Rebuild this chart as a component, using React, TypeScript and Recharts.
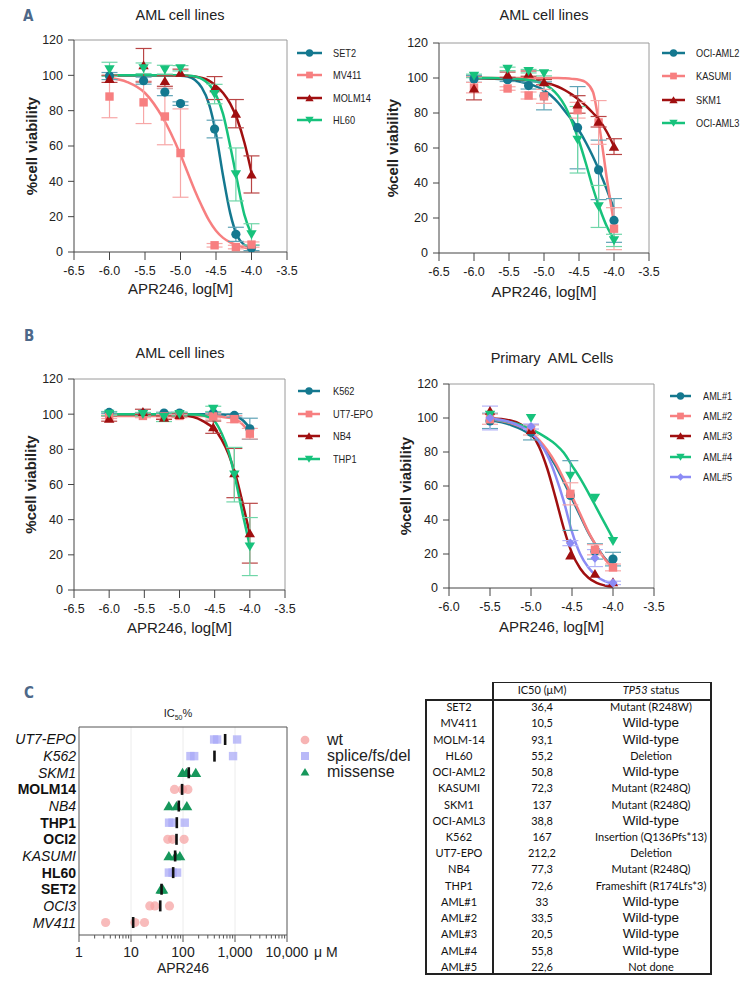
import React from 'react';
import { ComposedChart, Line, Scatter, XAxis, YAxis, ErrorBar, ReferenceLine, Legend, Label } from 'recharts';

const SANS = "'Liberation Sans', Arial, Helvetica, sans-serif";
const TABLE_FONT = "Lato, 'Open Sans', sans-serif";

const TEAL = '#14788f';
const SALMON = '#f77f80';
const DARK_RED = '#a00f10';
const GREEN = '#17c27c';
const LAVENDER = '#8b8bf5';
const TEAL_ERR = '#5fa3b6';
const SALMON_ERR = '#f7a7a7';
const DARK_RED_ERR = '#b94545';
const GREEN_ERR = '#6fd6a8';
const LAVENDER_ERR = '#b3b3f7';

// ---------- dose axis values (log M) ----------
const doseLog = [-6, -5.52, -5.22, -5, -4.52, -4.22, -4];
const fitGrid = [-6, -5.75, -5.5, -5.25, -5, -4.9, -4.8, -4.7, -4.6, -4.5, -4.4, -4.3, -4.2, -4.1, -4];
const doseLogPrimary = [-5.5, -5, -4.52, -4.22, -4];
const fitGridPrimary = [-5.5, -5.25, -5, -4.9, -4.8, -4.7, -4.6, -4.5, -4.4, -4.3, -4.2, -4.1, -4];

const xTicksLines = [-6.5, -6, -5.5, -5, -4.5, -4, -3.5];
const xTicksPrimary = [-6, -5.5, -5, -4.5, -4, -3.5];
const yTicksViability = [0, 20, 40, 60, 80, 100, 120];

// ---------- Panel A left ----------
const set2Mean = [99.6, 97, 90.5, 84, 69.6, 10, 2.3];
const set2Sd = [2, 2, 2, 1, 5, 4, 1.5];
const set2Fit = [100, 100, 100, 100, 99.8, 99.3, 97.5, 93, 84, 67, 43, 22, 9, 4, 2];
const mv411Mean = [88, 84.7, 76.7, 56, 3.8, 2.8, 4.2];
const mv411Sd = [12, 12, 16, 25, 1, 1, 1.5];
const mv411Fit = [98.6, 96.2, 90, 76, 55, 45, 35, 26, 18, 12, 8, 5.5, 3.8, 2.5, 1.7];
const molm14Mean = [98, 105.7, 96.8, 101.5, 92.8, 78.3, 43.9];
const molm14Sd = [2, 9.5, 3, 2, 6.5, 8, 10.5];
const molm14Fit = [100, 100, 100, 100, 100, 99.7, 99.3, 98.5, 97, 94, 90, 84, 75, 62, 45];
const hl60Mean = [103.4, 104, 103.2, 104, 89.4, 43.9, 10];
const hl60Sd = [4, 3, 2.5, 1.5, 5.5, 15, 6];
const hl60Fit = [100, 100, 100, 100, 100, 99.8, 99.4, 98, 95, 89, 78, 60, 40, 21, 10];

// ---------- Panel A right ----------
const ociAml2Mean = [99.5, 99, 95.7, 89.8, 71.6, 47.5, 18.6];
const ociAml2Sd = [2, 1, 2, 8, 23.5, 17, 12.5];
const ociAml2Fit = [99.8, 99.6, 99, 97, 93, 90, 86, 81, 76, 70, 63, 55, 46, 36, 25];
const kasumiMean = [94.5, 94, 90, 89.5, 81.6, 74.6, 13.9];
const kasumiSd = [3, 1, 2, 4, 4.5, 12.5, 12];
const kasumiFit = [100, 100, 100, 100, 100, 100, 100, 99.8, 99.5, 99, 97.5, 92, 70, 42, 17];
const skm1Mean = [94, 101.9, 102.5, 97.6, 84.9, 75, 60.8];
const skm1Sd = [6.5, 1.5, 1.5, 1.5, 5, 3, 4.5];
const skm1Fit = [100, 99.8, 99.5, 98.8, 97.5, 96.5, 95, 93, 90.5, 87.5, 84, 80, 75.5, 69, 61];
const ociAml3Mean = [101.2, 105.2, 103.9, 102.7, 64.7, 26.6, 7.2];
const ociAml3Sd = [1, 1, 1, 1.5, 19, 12, 3.5];
const ociAml3Fit = [100, 100, 99.7, 99, 96.5, 94, 90, 84, 75, 64, 51, 37, 25, 15, 8];

// ---------- Panel B left ----------
const k562Mean = [101, 100.4, 100.6, 100.6, 100.6, 99.3, 91.7];
const k562Sd = [0.5, 0.5, 0.5, 0.5, 0.5, 1, 6];
const k562Fit = [100, 100, 100, 100, 100, 100, 100, 100, 100, 100, 99.8, 99.5, 98.8, 96.5, 92];
const ut7Mean = [98.5, 99, 98.7, 99, 98.7, 97.2, 88.9];
const ut7Sd = [1, 1, 1, 1, 1.5, 2, 3];
const ut7Fit = [99, 99, 99, 99, 99, 99, 99, 99, 99, 98.8, 98.5, 98, 97, 94, 89];
const nb4Mean = [97.5, 101.3, 98, 99.6, 92.6, 66.5, 32.3];
const nb4Sd = [1.5, 1.5, 1, 1, 3.5, 14, 17];
const nb4Fit = [100, 100, 100, 100, 99.8, 99.3, 98.3, 96.8, 94.5, 91.5, 85.5, 77, 65, 49, 32];
const thp1Mean = [100.2, 100, 98.3, 100, 103, 65.6, 24.7];
const thp1Sd = [1, 1, 2.5, 1, 1.5, 15.5, 16.5];
const thp1Fit = [100, 100, 100, 100, 100, 100, 99.8, 99.5, 98.5, 96, 89, 78.5, 62, 43, 25];

// ---------- Panel B right (primary cells) ----------
const aml1Mean = [98.3, 91.6, 54.4, 21.5, 17];
const aml1Sd = [4.5, 4.5, 20.5, 4.5, 4];
const aml1Fit = [98.6, 96, 90, 85.5, 79.5, 72, 62.5, 52.5, 42.5, 32.5, 24.5, 17.5, 12.5];
const aml2Mean = [99.3, 93, 55.4, 22.5, 12.1];
const aml2Sd = [3, 3, 6.5, 3, 2];
const aml2Fit = [99.2, 97, 91.5, 87, 81, 73.5, 64, 54, 43.5, 33, 24.5, 17, 11.5];
const aml3Mean = [104.3, 93, 19.2, 8.4, 3.5];
const aml3Sd: number[] = [];
const aml3Fit = [99.8, 98.5, 91, 83, 70, 53, 35, 20.5, 11.5, 6, 3, 1.5, 0.7];
const aml4Mean = [101.8, 100, 66, 53, 27.6];
const aml4Sd: number[] = [];
const aml4Fit = [99.5, 97.5, 93.5, 91, 88, 84.5, 79.5, 72, 64.5, 56, 47, 38, 29];
const aml5Mean = [100, 95, 26.4, 17.6, 3];
const aml5Sd = [7, 1.5, 1.5, 5, 1];
const aml5Fit = [99.5, 97.5, 91, 86, 78, 66, 51, 33, 20, 12, 7, 4, 2.5];

// ---------- Panel C (IC50 scatter) ----------
const icCategories = ['UT7-EPO', 'K562', 'SKM1', 'MOLM14', 'NB4', 'THP1', 'OCI2', 'KASUMI', 'HL60', 'SET2', 'OCI3', 'MV411'];
const icLabelStyle = ['italic', 'italic', 'italic', 'bold', 'italic', 'bold', 'bold', 'italic', 'bold', 'bold', 'italic', 'italic'];
const icGroup = ['splice', 'splice', 'missense', 'wt', 'missense', 'splice', 'wt', 'missense', 'splice', 'missense', 'wt', 'wt'];
const icReplicates = [
  [397, 453, 1097], [139, 164, 918], [98, 117, 176], [68.7, 98, 124], [53.5, 75, 118.5], [54, 62.9, 108],
  [51, 63, 105], [53.5, 71.8, 87], [53.5, 63, 77], [37.5, 39, 41], [23, 28.8, 55], [3.25, 11.9, 18.2],
];
const icMedian = [646, 403, 129, 96, 83, 76, 75, 70.6, 64.7, 38.7, 36.5, 11];
const groupKeys = ['wt', 'splice', 'missense'];
const groupLabels = ['wt', 'splice/fs/del', 'missense'];
const groupColors = ['#f5a1a1', '#a7a7f6', '#16975b'];
const groupMarkers = ['circle', 'square', 'triUp'];
const logMajorTicks = [1, 10, 100, 1000, 10000];
const logMajorLabels = ['1', '10', '100', '1,000', '10,000'];
const logMinorMultipliers = [2, 3, 4, 5, 6, 7, 8, 9];

// ---------- Table ----------
const tableLines = ['SET2', 'MV411', 'MOLM-14', 'HL60', 'OCI-AML2', 'KASUMI', 'SKM1', 'OCI-AML3', 'K562', 'UT7-EPO', 'NB4', 'THP1', 'AML#1', 'AML#2', 'AML#3', 'AML#4', 'AML#5'];
const tableIC50 = ['36,4', '10,5', '93,1', '55,2', '50,8', '72,3', '137', '38,8', '167', '212,2', '77,3', '72,6', '33', '33,5', '20,5', '55,8', '22,6'];
const tableStatus = ['Mutant (R248W)', 'Wild-type', 'Wild-type', 'Deletion', 'Wild-type', 'Mutant (R248Q)', 'Mutant (R248Q)', 'Wild-type', 'Insertion (Q136Pfs*13)', 'Deletion', 'Mutant (R248Q)', 'Frameshift (R174Lfs*3)', 'Wild-type', 'Wild-type', 'Wild-type', 'Wild-type', 'Not done'];

type Series = { name: string; color: string; errColor: string; marker: string; mean: number[]; sd: number[]; fit: number[] };

const Marker = ({ kind, cx, cy, color, s = 1, opacity = 1 }: any) => {
  if (cx == null || cy == null) return null;
  if (kind === 'circle') return <circle cx={cx} cy={cy} r={4.6 * s} fill={color} fillOpacity={opacity} />;
  if (kind === 'square') return <rect x={cx - 4.2 * s} y={cy - 4.2 * s} width={8.4 * s} height={8.4 * s} fill={color} fillOpacity={opacity} />;
  if (kind === 'triUp') {
    const w = 5.2 * s, h = 4.8 * s;
    return <polygon points={`${cx},${cy - h} ${cx + w},${cy + h * 0.85} ${cx - w},${cy + h * 0.85}`} fill={color} fillOpacity={opacity} />;
  }
  if (kind === 'triDown') {
    const w = 5.2 * s, h = 4.8 * s;
    return <polygon points={`${cx},${cy + h} ${cx + w},${cy - h * 0.85} ${cx - w},${cy - h * 0.85}`} fill={color} fillOpacity={opacity} />;
  }
  const r = 4.6 * s;
  return <polygon points={`${cx},${cy - r} ${cx + r},${cy} ${cx},${cy + r} ${cx - r},${cy}`} fill={color} fillOpacity={opacity} />;
};

const seriesALeft: Series[] = [
  { name: 'SET2', color: TEAL, errColor: TEAL_ERR, marker: 'circle', mean: set2Mean, sd: set2Sd, fit: set2Fit },
  { name: 'MV411', color: SALMON, errColor: SALMON_ERR, marker: 'square', mean: mv411Mean, sd: mv411Sd, fit: mv411Fit },
  { name: 'MOLM14', color: DARK_RED, errColor: DARK_RED_ERR, marker: 'triUp', mean: molm14Mean, sd: molm14Sd, fit: molm14Fit },
  { name: 'HL60', color: GREEN, errColor: GREEN_ERR, marker: 'triDown', mean: hl60Mean, sd: hl60Sd, fit: hl60Fit },
];
const seriesARight: Series[] = [
  { name: 'OCI-AML2', color: TEAL, errColor: TEAL_ERR, marker: 'circle', mean: ociAml2Mean, sd: ociAml2Sd, fit: ociAml2Fit },
  { name: 'KASUMI', color: SALMON, errColor: SALMON_ERR, marker: 'square', mean: kasumiMean, sd: kasumiSd, fit: kasumiFit },
  { name: 'SKM1', color: DARK_RED, errColor: DARK_RED_ERR, marker: 'triUp', mean: skm1Mean, sd: skm1Sd, fit: skm1Fit },
  { name: 'OCI-AML3', color: GREEN, errColor: GREEN_ERR, marker: 'triDown', mean: ociAml3Mean, sd: ociAml3Sd, fit: ociAml3Fit },
];
const seriesBLeft: Series[] = [
  { name: 'K562', color: TEAL, errColor: TEAL_ERR, marker: 'circle', mean: k562Mean, sd: k562Sd, fit: k562Fit },
  { name: 'UT7-EPO', color: SALMON, errColor: SALMON_ERR, marker: 'square', mean: ut7Mean, sd: ut7Sd, fit: ut7Fit },
  { name: 'NB4', color: DARK_RED, errColor: DARK_RED_ERR, marker: 'triUp', mean: nb4Mean, sd: nb4Sd, fit: nb4Fit },
  { name: 'THP1', color: GREEN, errColor: GREEN_ERR, marker: 'triDown', mean: thp1Mean, sd: thp1Sd, fit: thp1Fit },
];
const seriesBRight: Series[] = [
  { name: 'AML#1', color: TEAL, errColor: TEAL_ERR, marker: 'circle', mean: aml1Mean, sd: aml1Sd, fit: aml1Fit },
  { name: 'AML#2', color: SALMON, errColor: SALMON_ERR, marker: 'square', mean: aml2Mean, sd: aml2Sd, fit: aml2Fit },
  { name: 'AML#3', color: DARK_RED, errColor: DARK_RED_ERR, marker: 'triUp', mean: aml3Mean, sd: aml3Sd, fit: aml3Fit },
  { name: 'AML#4', color: GREEN, errColor: GREEN_ERR, marker: 'triDown', mean: aml4Mean, sd: aml4Sd, fit: aml4Fit },
  { name: 'AML#5', color: LAVENDER, errColor: LAVENDER_ERR, marker: 'diamond', mean: aml5Mean, sd: aml5Sd, fit: aml5Fit },
];

type PanelCfg = {
  title: string; L: number; T: number; W: number; H: number;
  x0: number; x1: number; y0: number; y1: number;
  xDomain: number[]; xTicks: number[]; dose: number[]; grid: number[]; series: Series[];
  legendX: number; legendY: number; legendRow: number; legendLine: number; legendTextX: number;
  titleX: number; titleY: number; yLabelX: number; xLabelBaseline: number;
};

const panels: PanelCfg[] = [
  { title: 'AML cell lines', L: 0, T: 0, W: 380, H: 300, x0: 74, x1: 287, y0: 40, y1: 252, xDomain: [-6.5, -3.5], xTicks: xTicksLines, dose: doseLog, grid: fitGrid, series: seriesALeft, legendX: 297, legendY: 53, legendRow: 22.4, legendLine: 25, legendTextX: 333, titleX: 180, titleY: 15, yLabelX: 32, xLabelBaseline: 294 },
  { title: 'AML cell lines', L: 378, T: 0, W: 378, H: 300, x0: 439, x1: 649, y0: 43, y1: 253, xDomain: [-6.5, -3.5], xTicks: xTicksLines, dose: doseLog, grid: fitGrid, series: seriesARight, legendX: 662, legendY: 53, legendRow: 23.3, legendLine: 23, legendTextX: 696, titleX: 544, titleY: 15, yLabelX: 393, xLabelBaseline: 297 },
  { title: 'AML cell lines', L: 0, T: 300, W: 380, H: 340, x0: 74, x1: 285, y0: 379, y1: 590, xDomain: [-6.5, -3.5], xTicks: xTicksLines, dose: doseLog, grid: fitGrid, series: seriesBLeft, legendX: 298, legendY: 391, legendRow: 22.7, legendLine: 22, legendTextX: 333, titleX: 180, titleY: 353, yLabelX: 31, xLabelBaseline: 633 },
  { title: 'Primary  AML Cells', L: 378, T: 300, W: 378, H: 340, x0: 449, x1: 654, y0: 384, y1: 588, xDomain: [-6, -3.5], xTicks: xTicksPrimary, dose: doseLogPrimary, grid: fitGridPrimary, series: seriesBRight, legendX: 670, legendY: 396, legendRow: 20.2, legendLine: 21, legendTextX: 703, titleX: 552, titleY: 358, yLabelX: 406, xLabelBaseline: 632 },
];

const SeriesLegend = ({ cfg }: { cfg: PanelCfg }) => (
  <div>
    {cfg.series.map((s) => (
      <div key={s.name} style={{ height: cfg.legendRow, display: 'flex', alignItems: 'center' }}>
        <svg width={cfg.legendLine} height={12} style={{ overflow: 'visible', flex: 'none' }}>
          <line x1={0} x2={cfg.legendLine} y1={6} y2={6} stroke={s.color} strokeWidth={2.5} />
          <Marker kind={s.marker} cx={cfg.legendLine / 2} cy={6} color={s.color} s={0.8} />
        </svg>
        <span style={{ display: 'inline-block', marginLeft: cfg.legendTextX - cfg.legendX - cfg.legendLine, fontSize: 11.5, fontFamily: SANS, color: '#222', whiteSpace: 'nowrap', lineHeight: '12px', transform: 'scaleX(0.8)', transformOrigin: 'left center' }}>{s.name}</span>
      </div>
    ))}
  </div>
);

const DosePanel = ({ cfg }: { cfg: PanelCfg }) => {
  const margin = { top: cfg.y0 - cfg.T, right: cfg.L + cfg.W - cfg.x1, left: 0, bottom: 0 };
  const yAxisW = cfg.x0 - cfg.L;
  const xAxisH = cfg.T + cfg.H - cfg.y1;
  const tickStyle = { fill: '#222', fontSize: 12.5, fontFamily: SANS };
  return (
    <div style={{ position: 'absolute', left: cfg.L, top: cfg.T }}>
      <ComposedChart width={cfg.W} height={cfg.H} margin={margin} style={{ fontFamily: SANS }}>
        <XAxis type="number" dataKey="x" domain={cfg.xDomain} ticks={cfg.xTicks} interval={0} allowDataOverflow height={xAxisH}
          tickSize={8} tickMargin={6} tickFormatter={(v: number) => v.toFixed(1)} stroke="#444" tick={tickStyle}>
          <Label value="APR246, log[M]" position="insideBottom" offset={cfg.T + cfg.H - cfg.xLabelBaseline} style={{ fontSize: 15, fill: '#222', fontFamily: SANS }} />
        </XAxis>
        <YAxis type="number" dataKey="y" domain={[0, 120]} ticks={yTicksViability} interval={0} allowDataOverflow width={yAxisW}
          tickSize={6} tickMargin={5} stroke="#444" tick={tickStyle}>
          <Label value="%cell viability" angle={-90} position="insideLeft" offset={cfg.yLabelX - cfg.L}
            style={{ textAnchor: 'middle', fontSize: 15, fontWeight: 'bold', fill: '#222', fontFamily: SANS }} />
        </YAxis>
        <ReferenceLine y={120} stroke="#9a9a9a" strokeWidth={1} />
        <ReferenceLine x={cfg.xDomain[1]} stroke="#9a9a9a" strokeWidth={1} />
        {cfg.series.map((s) => (
          <Line key={'fit-' + s.name} data={cfg.grid.map((x, i) => ({ x, y: s.fit[i] }))} dataKey="y" type="monotone"
            stroke={s.color} strokeWidth={2.5} dot={false} activeDot={false} isAnimationActive={false} legendType="none" />
        ))}
        {cfg.series.map((s) => (
          <Scatter key={'pts-' + s.name} data={cfg.dose.map((x, i) => ({ x, y: s.mean[i], err: s.sd[i] }))} dataKey="y"
            isAnimationActive={false} legendType="none"
            shape={(p: any) => <Marker kind={s.marker} cx={p.cx} cy={p.cy} color={s.color} />}>
            {s.sd.length > 0 && <ErrorBar dataKey="err" direction="y" width={8} stroke={s.errColor} strokeWidth={1.2} />}
          </Scatter>
        ))}
        <Legend layout="horizontal" verticalAlign="middle" align="center"
          wrapperStyle={{ left: cfg.legendX - cfg.L, top: cfg.legendY - cfg.T - cfg.legendRow / 2, width: 110, height: cfg.legendRow * cfg.series.length }}
          content={() => <SeriesLegend cfg={cfg} />} />
      </ComposedChart>
    </div>
  );
};

// ---------- Panel C ----------
const IC_L = 0, IC_T = 700, IC_W = 425, IC_H = 284, IC_X0 = 79, IC_X1 = 287, IC_Y0 = 727, IC_Y1 = 935;
const icYTop = 11.75, icYBottom = -0.75;
const icYPos = (i: number) => icCategories.length - 1 - i;
const icTicksY = icCategories.map((_, i) => icYPos(i));
const logAllTicks: number[] = [];
logMajorTicks.forEach((m, k) => {
  logAllTicks.push(m);
  if (k < logMajorTicks.length - 1) logMinorMultipliers.forEach((f) => logAllTicks.push(m * f));
});

const LogTick = (props: any) => {
  const { x, y, payload } = props;
  const v = payload.value;
  const k = logMajorTicks.indexOf(v);
  const major = k >= 0;
  return (
    <g>
      <line x1={x} x2={x} y1={y} y2={y + (major ? 7 : 3.5)} stroke="#555" strokeWidth={1} />
      {major && (
        <text x={x} y={y + 22} textAnchor="middle" fontSize={14} fill="#222" fontFamily={SANS}>{logMajorLabels[k]}</text>
      )}
      {major && k === logMajorTicks.length - 1 && (
        <text x={x + 27} y={y + 22} textAnchor="start" fontSize={14} fill="#222" fontFamily={SANS}>μ M</text>
      )}
    </g>
  );
};

const CatTick = (props: any) => {
  const { x, y, payload } = props;
  const idx = icCategories.length - 1 - payload.value;
  const st = icLabelStyle[idx];
  return (
    <text x={x} y={y + 5} textAnchor="end" fontSize={14} fill="#111" fontFamily={SANS}
      fontStyle={st === 'italic' ? 'italic' : 'normal'} fontWeight={st === 'bold' ? 'bold' : 'normal'}>
      {icCategories[idx]}
    </text>
  );
};

const IcLegend = () => (
  <div>
    {groupKeys.map((g, k) => (
      <div key={g} style={{ height: 16, display: 'flex', alignItems: 'center' }}>
        <svg width={16} height={12} style={{ overflow: 'visible', flex: 'none' }}>
          <Marker kind={groupMarkers[k]} cx={8} cy={6} color={groupColors[k]} s={k === 2 ? 0.85 : 0.95} opacity={k === 2 ? 1 : 0.8} />
        </svg>
        <span style={{ marginLeft: 14, fontSize: 16, fontFamily: SANS, color: '#222', whiteSpace: 'nowrap', lineHeight: '16px' }}>{groupLabels[k]}</span>
      </div>
    ))}
  </div>
);

const IcPanel = () => {
  const groupData = groupKeys.map((g) => {
    const pts: { x: number; y: number }[] = [];
    icCategories.forEach((_, i) => {
      if (icGroup[i] === g) icReplicates[i].forEach((v) => pts.push({ x: v, y: icYPos(i) }));
    });
    return pts;
  });
  const medianData = icCategories.map((_, i) => ({ x: icMedian[i], y: icYPos(i) }));
  return (
    <div style={{ position: 'absolute', left: IC_L, top: IC_T }}>
      <ComposedChart width={IC_W} height={IC_H} margin={{ top: IC_Y0 - IC_T, right: IC_L + IC_W - IC_X1, left: 0, bottom: 0 }} style={{ fontFamily: SANS }}>
        <XAxis type="number" dataKey="x" scale="log" domain={[1, 10000]} allowDataOverflow ticks={logAllTicks} interval={0}
          height={IC_T + IC_H - IC_Y1} tickSize={0} tickMargin={0} tickLine={false} tick={(p: any) => <LogTick {...p} />} stroke="#555">
          <Label value="APR246" position="insideBottom" offset={IC_T + IC_H - 973} style={{ fontSize: 14, fill: '#222', fontFamily: SANS }} />
        </XAxis>
        <YAxis type="number" dataKey="y" domain={[icYBottom, icYTop]} allowDataOverflow ticks={icTicksY} interval={0}
          width={IC_X0 - IC_L} tickSize={0} tickMargin={3} tickLine={false} tick={(p: any) => <CatTick {...p} />} stroke="#555" />
        {[10, 100, 1000].map((v) => (
          <ReferenceLine key={v} x={v} stroke="#ececec" strokeWidth={1} />
        ))}
        <ReferenceLine y={icYTop} stroke="#555" strokeWidth={1} />
        <ReferenceLine x={10000} stroke="#555" strokeWidth={1} />
        {groupKeys.map((g, k) => (
          <Scatter key={g} data={groupData[k]} dataKey="y" isAnimationActive={false} legendType="none"
            shape={(p: any) => <Marker kind={groupMarkers[k]} cx={p.cx} cy={p.cy} color={groupColors[k]} s={k === 2 ? 1.05 : 1} opacity={k === 2 ? 1 : 0.72} />} />
        ))}
        <Scatter data={medianData} dataKey="y" isAnimationActive={false} legendType="none"
          shape={(p: any) => (p.cx == null ? null : <rect x={p.cx - 1.3} y={p.cy - 5.5} width={2.6} height={11} fill="#111" />)} />
        <Legend layout="horizontal" verticalAlign="middle" align="center"
          wrapperStyle={{ left: 297, top: 32, width: 125, height: 48 }} content={() => <IcLegend />} />
      </ComposedChart>
    </div>
  );
};

// ---------- Table ----------
const IcTable = () => {
  const left = 425, right = 712, headTop = 682, bodyTop = 699, bodyBottom = 975, col1R = 493;
  const col1C = 459, col2C = 542, col3C = 651;
  const rowH = (bodyBottom - bodyTop) / tableLines.length;
  const cell = (cx: number, cy: number, content: React.ReactNode, style: React.CSSProperties, key?: string) => (
    <div key={key} style={{ position: 'absolute', left: cx - 90, top: cy - 9, width: 180, height: 18, lineHeight: '18px', textAlign: 'center', color: '#111', whiteSpace: 'nowrap', ...style }}>{content}</div>
  );
  const base: React.CSSProperties = { fontFamily: TABLE_FONT, fontSize: 11 };
  const wild: React.CSSProperties = { fontFamily: SANS, fontSize: 13.5 };
  return (
    <div style={{ position: 'absolute', left: 0, top: 0 }}>
      <div style={{ position: 'absolute', left: col1R, top: headTop, width: right - col1R, height: bodyTop - headTop + 1, borderTop: '1.5px solid #222', borderRight: '2px solid #222', boxSizing: 'border-box' }} />
      <div style={{ position: 'absolute', left, top: bodyTop, width: right - left, height: bodyBottom - bodyTop, border: '2px solid #222', boxSizing: 'border-box' }} />
      <div style={{ position: 'absolute', left: col1R - 1, top: headTop, width: 2, height: bodyBottom - headTop, background: '#222' }} />
      {cell(col2C, 690, 'IC50 (μM)', base)}
      {cell(col3C, 690, <span><i>TP53</i> status</span>, base)}
      {tableLines.map((name, i) => {
        const cy = bodyTop + rowH * (i + 0.5);
        const st = tableStatus[i];
        return (
          <React.Fragment key={name}>
            {cell(col1C, cy, name, base)}
            {cell(col2C, cy, tableIC50[i], base)}
            {cell(col3C, cy, st, st === 'Wild-type' ? wild : base)}
          </React.Fragment>
        );
      })}
    </div>
  );
};

const textAbs = (x: number, y: number, content: React.ReactNode, style: React.CSSProperties) => (
  <div style={{ position: 'absolute', left: x - 150, top: y - 10, width: 300, height: 20, lineHeight: '20px', textAlign: 'center', whiteSpace: 'pre', ...style }}>{content}</div>
);

const letterStyle: React.CSSProperties = { fontFamily: "'DejaVu Sans Condensed', sans-serif", fontWeight: 'bold', fontSize: 15, color: '#4d6889', textAlign: 'left' };

export default function App() {
  return (
    <div style={{ position: 'absolute', left: 0, top: 0, width: 756, height: 984, background: '#fff', overflow: 'hidden', fontFamily: SANS }}>
      {panels.map((cfg, i) => (
        <React.Fragment key={i}>
          {textAbs(cfg.titleX, cfg.titleY, cfg.title, { fontSize: 14.5, color: '#222', fontFamily: SANS })}
          <DosePanel cfg={cfg} />
        </React.Fragment>
      ))}
      <div style={{ position: 'absolute', left: 23, top: 7, ...letterStyle }}>A</div>
      <div style={{ position: 'absolute', left: 24, top: 327, ...letterStyle }}>B</div>
      <div style={{ position: 'absolute', left: 24, top: 684, ...letterStyle }}>C</div>
      {textAbs(178, 713, <span>IC<span style={{ fontSize: 7, verticalAlign: 'sub' }}>50</span>%</span>, { fontSize: 11, color: '#222', fontFamily: SANS })}
      <IcPanel />
      <IcTable />
    </div>
  );
}
